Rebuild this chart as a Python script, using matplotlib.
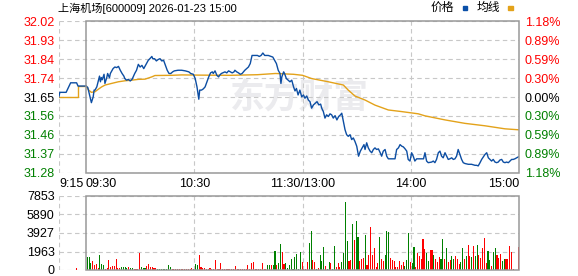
import matplotlib
matplotlib.use("Agg")
import matplotlib.pyplot as plt
from matplotlib.patches import Rectangle
from matplotlib.transforms import blended_transform_factory
import numpy as np

plt.rcParams['font.family'] = ['Liberation Sans', 'Noto Sans CJK SC', 'DejaVu Sans']

# --- data (minutes from 09:30; pre-market is negative) ---
prev_close = 31.65
title = "上海机场[600009] 2026-01-23 15:00"

pre_t = [-15, -14.5, -11, -8.5, -5.2, -4.4, 0]
pre_p = [31.651, 31.673, 31.673, 31.72, 31.72, 31.704, 31.704]
pre_avg_t = [-15, -4.6, -4.6, 0]
pre_avg_p = [31.651, 31.651, 31.704, 31.704]

price_t = [0, 1, 2, 3, 4, 4.5, 5, 6, 7, 7.5, 8, 8.5, 9, 10, 10.5, 11.5, 12, 13, 13.5, 14.5,
           15, 16, 17, 18, 19, 20, 21, 21.5, 22.5, 23.5, 24.5, 25.5, 26, 27, 28, 29, 30, 31, 32, 33,
           34, 34.5, 35.5, 36.5, 37, 38, 39, 40, 41, 42, 43, 44, 45, 46, 47, 48, 49, 51, 53, 55,
           57, 58, 59.5, 60.5, 61.5, 62.5, 63, 64, 65, 66, 67, 68, 69, 70, 70.5, 71.5, 72.5, 73.5, 74, 75,
           77, 78, 79, 81, 82, 82.5, 83.5, 84.5, 85.5, 86.5, 88, 90, 91, 92, 93, 95, 96, 97, 98, 99,
           101, 103.5, 104.5, 105.5, 106.5, 107.5, 108, 108.5, 109.5, 110, 111, 112, 113, 114, 115, 115.8,
           116.6, 117.5, 118.5, 119.5, 120.5, 121.3, 122.3, 123.2, 124.1, 125, 126, 127, 128, 129, 130,
           130.6, 131.5, 132.4, 133.3, 134.3, 135.2, 136.1, 137, 138, 139, 140, 141, 141.7, 142.6, 143.5,
           144.4, 145.3, 146.3, 147.2, 148.1, 149, 150, 151, 152, 153, 154, 154.6, 155.5, 156.4, 157.4,
           158.3, 159.2, 160.1, 161, 162, 163, 163.8, 164.7, 165.7, 166.6, 167.5, 169.4, 171.2, 172.1,
           173.1, 174, 175, 175.8, 176.7, 177.7, 178.5, 179.5, 180.4, 181.3, 182.2, 183.2, 185, 187,
           187.8, 188.7, 189.6, 191.5, 192.4, 193.3, 194.2, 195.2, 196.1, 197, 197.9, 198.9, 199.8,
           200.7, 201.6, 202.6, 203.5, 204.4, 205.3, 206.2, 207.2, 208.1, 209, 209.9, 211.8, 213.6,
           215.5, 216.4, 217.3, 218.3, 219.2, 221, 222, 222.9, 223.8, 224.7, 225.6, 226.6, 227.5, 228.4,
           229.3, 230.3, 231.2, 232.1, 233, 234, 234.9, 235.8, 236.7, 237.6, 238.6, 239.5, 240]
price_v = [31.704, 31.697, 31.66, 31.622, 31.651, 31.684, 31.684, 31.70, 31.736, 31.753, 31.725, 31.746,
           31.735, 31.762, 31.717, 31.745, 31.766, 31.745, 31.766, 31.782, 31.79, 31.798, 31.795, 31.801,
           31.782, 31.766, 31.753, 31.741, 31.733, 31.737, 31.729, 31.737, 31.746, 31.766, 31.782, 31.811,
           31.798, 31.806, 31.79, 31.806, 31.823, 31.831, 31.84, 31.85, 31.839, 31.839, 31.828, 31.835,
           31.839, 31.828, 31.831, 31.806, 31.782, 31.766, 31.766, 31.774, 31.779, 31.782, 31.782, 31.779,
           31.774, 31.766, 31.762, 31.741, 31.70, 31.639, 31.684, 31.684, 31.69, 31.70, 31.725, 31.749,
           31.769, 31.774, 31.766, 31.779, 31.757, 31.749, 31.757, 31.766, 31.774, 31.769, 31.779, 31.769,
           31.774, 31.782, 31.774, 31.769, 31.762, 31.766, 31.782, 31.798, 31.815, 31.855, 31.855, 31.855,
           31.85, 31.855, 31.867, 31.855, 31.855, 31.847, 31.831, 31.815, 31.782, 31.766, 31.717, 31.749,
           31.774, 31.766, 31.741, 31.733, 31.725, 31.733, 31.70, 31.68, 31.692, 31.66, 31.684, 31.651,
           31.66, 31.644, 31.655, 31.635, 31.627, 31.595, 31.611, 31.619, 31.627, 31.611, 31.615, 31.595,
           31.578, 31.546, 31.562, 31.554, 31.567, 31.562, 31.546, 31.558, 31.537, 31.554, 31.562, 31.57,
           31.529, 31.489, 31.464, 31.456, 31.464, 31.44, 31.448, 31.431, 31.407, 31.358, 31.383, 31.399,
           31.415, 31.391, 31.424, 31.399, 31.383, 31.375, 31.391, 31.399, 31.391, 31.394, 31.375, 31.358,
           31.383, 31.391, 31.358, 31.345, 31.345, 31.345, 31.391, 31.399, 31.415, 31.407, 31.404, 31.395,
           31.383, 31.342, 31.334, 31.375, 31.358, 31.334, 31.345, 31.345, 31.345, 31.375, 31.334, 31.326,
           31.329, 31.334, 31.326, 31.342, 31.375, 31.383, 31.358, 31.35, 31.375, 31.358, 31.342, 31.345,
           31.35, 31.342, 31.345, 31.358, 31.391, 31.366, 31.342, 31.326, 31.322, 31.318, 31.318, 31.313,
           31.313, 31.31, 31.326, 31.342, 31.366, 31.375, 31.35, 31.342, 31.334, 31.342, 31.329, 31.326,
           31.329, 31.339, 31.342, 31.329, 31.326, 31.329, 31.326, 31.334, 31.342, 31.342, 31.345, 31.35,
           31.355, 31.357]

avg_t = [0, 1.5, 3, 5, 6.8, 8.7, 10.6, 14.2, 17.9, 21.6, 25.3, 29, 32.7, 36.4, 38.2, 47.5, 53, 62,
         80, 95, 105, 115, 120, 125, 134.3, 142.6, 145.3, 149, 154.6, 160.1, 167.5, 174.9, 184.1,
         187.8, 198.9, 209.9, 221, 232.1, 240]
avg_v = [31.704, 31.684, 31.673, 31.676, 31.688, 31.70, 31.709, 31.717, 31.725, 31.73, 31.733, 31.737,
         31.738, 31.749, 31.756, 31.757, 31.759, 31.758, 31.757, 31.76, 31.766, 31.762, 31.757, 31.741,
         31.725, 31.709, 31.684, 31.655, 31.635, 31.61, 31.586, 31.578, 31.567, 31.557, 31.537, 31.52,
         31.508, 31.493, 31.488]

pre_vol_t = [-5]
pre_vol = [180]

volume = [0, 1415, 1415, 780, 955, 530, 640, 250, 1630, 640,
          500, 110, 200, 1060, 350, 420, 420, 1170, 200, 250,
          350, 320, 320, 180, 320, 250, 180, 110, 110, 110,
          1800, 320, 250, 220, 420, 640, 320, 320, 250, 180,
          110, 110, 110, 110, 110, 110, 530, 350, 110, 110,
          150, 110, 110, 150, 110, 110, 110, 150, 110, 250,
          110, 680, 530, 1590, 350, 180, 250, 110, 110, 250,
          110, 110, 1060, 110, 110, 770, 110, 110, 110, 110,
          110, 110, 110, 430, 110, 110, 110, 110, 110, 110,
          530, 110, 700, 850, 110, 110, 110, 110, 700, 110,
          110, 530, 530, 530, 530, 2015, 530, 770, 2720, 1940,
          650, 770, 250, 530, 1170, 110, 1400, 1700, 110, 1910,
          850, 110, 110, 850, 2830, 4140, 1060, 850, 100, 250,
          1590, 950, 2440, 420, 100, 820, 760, 110, 2550, 320,
          760, 320, 820, 1800, 7215, 3080, 950, 1020, 4880, 3180,
          5200, 3500, 950, 1170, 1270, 3710, 530, 1590, 4560, 1590,
          2330, 320, 740, 3500, 1170, 950, 1590, 4140, 4030, 1270,
          1020, 950, 320, 320, 950, 530, 820, 420, 1060, 3920,
          850, 740, 2440, 320, 1800, 1480, 1170, 3290, 2230, 1800,
          950, 2120, 2120, 1590, 1170, 850, 1380, 1170, 3290, 1170,
          2330, 850, 1100, 1480, 1170, 1480, 1170, 640, 850, 2330,
          1170, 1480, 2650, 1480, 1380, 2550, 1480, 2650, 1590, 1270,
          2330, 3400, 740, 2015, 1060, 420, 1910, 2330, 1590, 1270,
          1700, 950, 1170, 1170, 1170, 2550, 1910, 110, 0, 0,
          2440]
vol_side = ("rgggrrrrgg" "grrrrrrrrr" "ggggrggrrr" "rgggrrrrrr" "ggggggggrr"
            "rrrrrrrrrr" "rggrrrrrrr" "rrrrrrrrrr" "rrrrrrrrrr" "rrrrrrrrrr"
            "rggrggrggr" "rggggggggg" "rrrrggrrgr" "gggrggrggr" "rrggggrrgr"
            "ggrrrgrrrr" "rrrgrrgggr" "rrrrrrrggg" "rggrrrrrrg" "grrgrrrggr"
            "grrggrrrgg" "rgrrgrggrr" "rrrggrggrr" "rggrrrrrrr" "r")

price_labels = ["32.02", "31.93", "31.84", "31.74", "31.65", "31.56", "31.46", "31.37", "31.28"]
pct_labels = ["1.18%", "0.89%", "0.59%", "0.30%", "0.00%", "0.30%", "0.59%", "0.89%", "1.18%"]
vol_labels = [7853, 5890, 3927, 1963, 0]
time_ticks = [-15, 0, 60, 120, 180, 240]
time_labels = ["9:15", "09:30", "10:30", "11:30/13:00", "14:00", "15:00"]

# --- style ---
RED = "#ff0000"
GREEN = "#008000"
BLUE = "#0d4ea3"
GOLD = "#e3a21a"
GRID = "#c8c8c8"
BORDER = "#999999"

W, H = 578, 276
fig = plt.figure(figsize=(W / 100, H / 100), dpi=100)


def add_px_axes(x0, y0, x1, y1):
    return fig.add_axes([x0 / W, 1 - y1 / H, (x1 - x0) / W, (y1 - y0) / H])


ax = add_px_axes(58.9, 21.3, 519.2, 172.7)
axv = add_px_axes(58.9, 196, 519.2, 270)

lo = prev_close * (1 - 0.0118)
hi = prev_close * (1 + 0.0118)
ytick_pos = np.linspace(hi, lo, len(price_labels))

for a in (ax, axv):
    a.set_xlim(-15, 240)
    for s in a.spines.values():
        s.set_visible(False)
    a.tick_params(length=0)
    a.set_xticks([])

ax.set_ylim(lo, hi)
ax.hlines(ytick_pos, -15, 240, colors=GRID, lw=0.8, linestyles=(0, (4, 3)), zorder=1)
ax.vlines([-15, 60, 120, 180], lo, hi, colors=GRID, lw=0.8, linestyles=(0, (4, 3)), zorder=1)
ax.add_patch(Rectangle((0, lo), 240, hi - lo, fill=False, ec=BORDER, lw=1.1, zorder=5, clip_on=False))

# watermark
ax.text(118, 31.65, "东方财富", fontsize=25, fontweight="bold", color="#ebebee",
        ha="center", va="center", family=['Noto Sans CJK SC'], zorder=0)

ax.plot(pre_avg_t, pre_avg_p, color=GOLD, lw=1.0, zorder=3)
ax.plot(pre_t, pre_p, color=BLUE, lw=1.0, zorder=4)
ax.plot(avg_t, avg_v, color=GOLD, lw=1.0, zorder=3)
ax.plot(price_t, price_v, color=BLUE, lw=1.0, zorder=4)

ax.set_yticks(ytick_pos)
ax.set_yticklabels(price_labels, fontsize=9)
ax.tick_params(axis="y", pad=3)
for i, lab in enumerate(ax.get_yticklabels()):
    lab.set_color(RED if i < 4 else ("#000000" if i == 4 else GREEN))

axr = ax.twinx()
axr.set_ylim(lo, hi)
for s in axr.spines.values():
    s.set_visible(False)
axr.set_yticks(ytick_pos)
axr.set_yticklabels(pct_labels, fontsize=9)
axr.tick_params(length=0, pad=4)
for i, lab in enumerate(axr.get_yticklabels()):
    lab.set_color(RED if i < 4 else ("#000000" if i == 4 else GREEN))

trans = blended_transform_factory(ax.transData, ax.transAxes)
aligns = ["left", "left", "center", "center", "center", "right"]
for t, lab, ha in zip(time_ticks, time_labels, aligns):
    ax.text(t, -0.035, lab, transform=trans, ha=ha, va="top", fontsize=9)

# volume panel
vmax = vol_labels[0]
axv.set_ylim(0, vmax)
axv.hlines(vol_labels, -15, 240, colors=GRID, lw=0.8, linestyles=(0, (4, 3)), zorder=1)
axv.vlines([-15, 60, 120, 180], 0, vmax, colors=GRID, lw=0.8, linestyles=(0, (4, 3)), zorder=1)
axv.add_patch(Rectangle((0, 0), 240, vmax, fill=False, ec=BORDER, lw=1.1, zorder=5, clip_on=False))
minutes = np.arange(len(volume))
bar_colors = [RED if c == "r" else GREEN for c in vol_side]
axv.bar(minutes, volume, width=-0.6, align="edge", color=bar_colors, lw=0, zorder=3)
axv.bar(pre_vol_t, pre_vol, width=-0.6, align="edge", color=RED, lw=0, zorder=3)
axv.set_yticks(vol_labels)
axv.set_yticklabels([str(v) for v in vol_labels], fontsize=9)
axv.tick_params(axis="y", pad=3)

# title and legend
fig.text(58 / W, 1 - 8 / H, title, fontsize=8, va="center", ha="left")
fig.text(431 / W, 1 - 8 / H, "价格", fontsize=8.5, va="center", ha="left")
fig.patches.append(Rectangle((462.5 / W, 1 - 10 / H), 4 / W, 3.5 / H, transform=fig.transFigure,
                             color="#0a4fa8", figure=fig))
fig.text(476.5 / W, 1 - 8 / H, "均线", fontsize=8.5, va="center", ha="left")
fig.patches.append(Rectangle((508 / W, 1 - 10 / H), 4.5 / W, 3.5 / H, transform=fig.transFigure,
                             color=GOLD, figure=fig))

fig.savefig("out.png", dpi=100)
